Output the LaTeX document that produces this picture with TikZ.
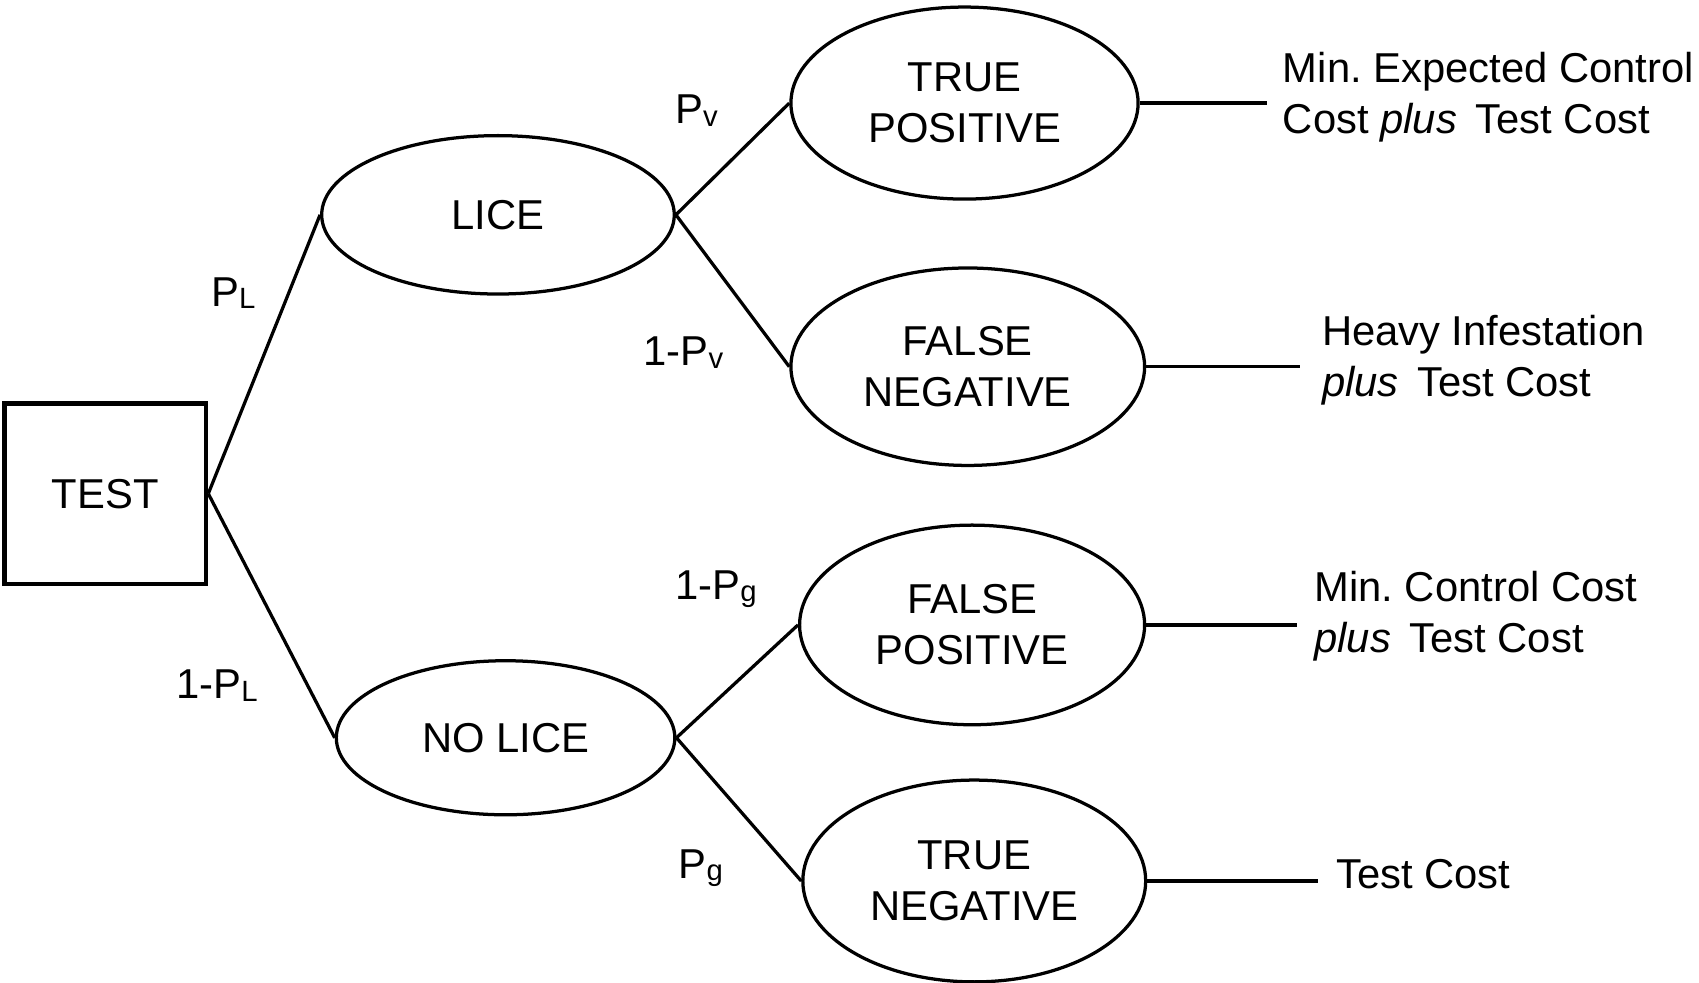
\documentclass[tikz,border=0pt]{standalone}
\usepackage{fontspec}
\setmainfont{Liberation Sans}
\usetikzlibrary{shapes.geometric}
\frenchspacing
\newcommand{\sbs}[1]{{\fontsize{27}{27}\selectfont\raisebox{-2pt}{#1}}}
\begin{document}
\begin{tikzpicture}[x=1pt,y=-1pt, line width=3pt,
  every node/.style={font=\fontsize{38.5}{47}\selectfont},
  oval/.style={draw, ellipse, inner sep=0pt, align=center},
  outtext/.style={anchor=west, align=left, inner sep=0pt},
  prob/.style={anchor=center, inner sep=0pt}]
\useasboundingbox (0,0) rectangle (1566,906);
\node[draw, line width=4pt, minimum width=186pt, minimum height=166pt, inner sep=0pt] (test) at (97,455) {TEST};
\node[oval, minimum width=325pt, minimum height=146pt] (lice) at (459,198) {LICE};
\node[oval, minimum width=312pt, minimum height=142pt] (nolice) at (466,680) {NO LICE};
\node[oval, minimum width=320pt, minimum height=177pt] (tp) at (889,95) {TRUE\\POSITIVE};
\node[oval, minimum width=326pt, minimum height=182pt] (fn) at (892,338) {FALSE\\NEGATIVE};
\node[oval, minimum width=318pt, minimum height=184pt] (fp) at (896,576) {FALSE\\POSITIVE};
\node[oval, minimum width=316pt, minimum height=186pt] (tn) at (898,812) {TRUE\\NEGATIVE};
\draw (test.east) -- (lice.west);
\draw (test.east) -- (nolice.west);
\draw (lice.east) -- (tp.west);
\draw (lice.east) -- (fn.west);
\draw (nolice.east) -- (fp.west);
\draw (nolice.east) -- (tn.west);
\coordinate (tpo) at (1168,95);
\coordinate (fno) at (1198,338);
\coordinate (fpo) at (1195,576);
\coordinate (tno) at (1215,812);
\draw (tp.east) -- (tpo);
\draw (fn.east) -- (fno);
\draw (fp.east) -- (fpo);
\draw (tn.east) -- (tno);
\node[outtext] (tpt) at (1181,90) {Min. Expected Control\\Cost \textit{plus}\, Test Cost};
\node[outtext] (fnt) at (1217,332) {Heavy Infestation\\\textit{plus}\, Test Cost};
\node[outtext] (fpt) at (1210,568) {Min. Control Cost\\\textit{plus}\, Test Cost};
\node[outtext] (tnt) at (1230,806) {Test Cost};
\node[prob] (pl) at (215,270) {P\sbs{L}};
\node[prob] (npl) at (200,632) {1-P\sbs{L}};
\node[prob] (pv) at (642,102) {P\sbs{v}};
\node[prob] (npv) at (630,325) {1-P\sbs{v}};
\node[prob] (npg) at (660,543) {1-P\sbs{g}};
\node[prob] (pg) at (646,800) {P\sbs{g}};
\end{tikzpicture}
\end{document}
